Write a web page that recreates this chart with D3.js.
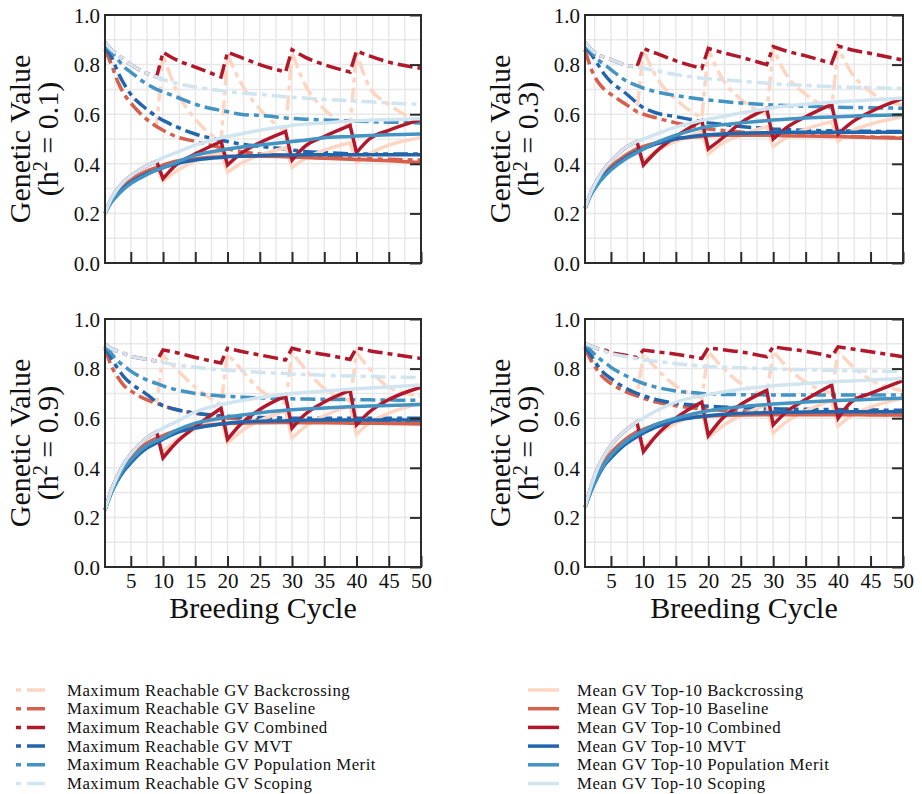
<!DOCTYPE html>
<html>
<head>
<meta charset="utf-8">
<script src="https://cdn.jsdelivr.net/npm/d3@7"></script>
<style>
    body { margin: 0; background: #fff; }
    svg text { font-family: "Liberation Serif", "DejaVu Serif", serif; fill: #111; }
</style>
</head>
<body>
<svg id="chart" width="922" height="794"></svg>
<script>
var cycles = [1, 2, 3, 4, 5, 7, 9, 10, 12, 15, 19, 20, 22, 25, 29, 30, 32, 35, 39, 40, 42, 45, 50];

// h2 = 0.1
var p1MaxBackcrossing = [0.86, 0.80, 0.73, 0.68, 0.645, 0.59, 0.55, 0.84, 0.70, 0.58, 0.49, 0.84, 0.73, 0.62, 0.53, 0.85, 0.72, 0.62, 0.55, 0.85, 0.71, 0.64, 0.565];
var p1MaxBaseline = [0.86, 0.80, 0.73, 0.68, 0.645, 0.59, 0.55, 0.535, 0.51, 0.49, 0.465, 0.46, 0.45, 0.44, 0.435, 0.433, 0.43, 0.427, 0.423, 0.422, 0.42, 0.418, 0.415];
var p1MaxCombined = [0.89, 0.86, 0.84, 0.82, 0.80, 0.77, 0.75, 0.85, 0.82, 0.79, 0.75, 0.85, 0.83, 0.80, 0.77, 0.86, 0.83, 0.80, 0.77, 0.855, 0.835, 0.81, 0.785];
var p1MaxMVT = [0.87, 0.83, 0.77, 0.72, 0.68, 0.63, 0.59, 0.575, 0.55, 0.52, 0.495, 0.49, 0.48, 0.47, 0.46, 0.455, 0.45, 0.445, 0.44, 0.44, 0.44, 0.44, 0.44];
var p1MaxPopMerit = [0.88, 0.85, 0.82, 0.79, 0.77, 0.73, 0.70, 0.69, 0.67, 0.64, 0.615, 0.61, 0.60, 0.595, 0.585, 0.583, 0.58, 0.577, 0.573, 0.572, 0.57, 0.568, 0.565];
var p1MaxScoping = [0.89, 0.86, 0.84, 0.82, 0.80, 0.77, 0.75, 0.74, 0.725, 0.71, 0.695, 0.69, 0.685, 0.68, 0.67, 0.668, 0.665, 0.66, 0.655, 0.653, 0.65, 0.645, 0.64];
var p1MeanBackcrossing = [0.20, 0.255, 0.29, 0.315, 0.335, 0.365, 0.385, 0.33, 0.37, 0.41, 0.45, 0.365, 0.40, 0.435, 0.465, 0.385, 0.42, 0.455, 0.485, 0.405, 0.44, 0.475, 0.505];
var p1MeanBaseline = [0.20, 0.255, 0.29, 0.315, 0.335, 0.365, 0.385, 0.395, 0.41, 0.42, 0.428, 0.43, 0.43, 0.43, 0.428, 0.427, 0.425, 0.422, 0.418, 0.417, 0.415, 0.412, 0.405];
var p1MeanCombined = [0.20, 0.26, 0.30, 0.33, 0.35, 0.385, 0.41, 0.34, 0.395, 0.44, 0.49, 0.395, 0.44, 0.485, 0.53, 0.415, 0.47, 0.51, 0.555, 0.445, 0.50, 0.535, 0.578];
var p1MeanMVT = [0.20, 0.25, 0.28, 0.305, 0.325, 0.355, 0.375, 0.385, 0.40, 0.415, 0.425, 0.428, 0.43, 0.433, 0.435, 0.435, 0.436, 0.436, 0.436, 0.436, 0.436, 0.436, 0.436];
var p1MeanPopMerit = [0.20, 0.245, 0.275, 0.30, 0.32, 0.35, 0.375, 0.385, 0.405, 0.435, 0.455, 0.46, 0.467, 0.476, 0.487, 0.49, 0.495, 0.505, 0.51, 0.512, 0.514, 0.517, 0.52];
var p1MeanScoping = [0.20, 0.26, 0.30, 0.33, 0.35, 0.385, 0.41, 0.425, 0.445, 0.475, 0.505, 0.51, 0.52, 0.535, 0.55, 0.555, 0.56, 0.565, 0.572, 0.574, 0.576, 0.578, 0.582];

// h2 = 0.3
var p2MaxBackcrossing = [0.86, 0.78, 0.73, 0.70, 0.68, 0.645, 0.61, 0.86, 0.75, 0.66, 0.585, 0.86, 0.75, 0.66, 0.60, 0.865, 0.76, 0.68, 0.62, 0.87, 0.77, 0.69, 0.635];
var p2MaxBaseline = [0.86, 0.78, 0.73, 0.70, 0.68, 0.645, 0.61, 0.60, 0.585, 0.565, 0.545, 0.54, 0.535, 0.528, 0.522, 0.52, 0.518, 0.515, 0.512, 0.511, 0.51, 0.508, 0.505];
var p2MaxCombined = [0.89, 0.86, 0.84, 0.83, 0.82, 0.80, 0.79, 0.865, 0.845, 0.815, 0.785, 0.865, 0.85, 0.83, 0.80, 0.872, 0.855, 0.835, 0.805, 0.875, 0.86, 0.845, 0.818];
var p2MaxMVT = [0.87, 0.84, 0.80, 0.76, 0.73, 0.69, 0.645, 0.625, 0.605, 0.59, 0.57, 0.565, 0.56, 0.55, 0.543, 0.54, 0.538, 0.535, 0.533, 0.532, 0.532, 0.531, 0.53];
var p2MaxPopMerit = [0.88, 0.85, 0.82, 0.80, 0.78, 0.74, 0.715, 0.705, 0.69, 0.675, 0.66, 0.657, 0.652, 0.645, 0.638, 0.637, 0.635, 0.632, 0.629, 0.628, 0.627, 0.626, 0.624];
var p2MaxScoping = [0.89, 0.86, 0.84, 0.83, 0.82, 0.80, 0.79, 0.785, 0.775, 0.76, 0.745, 0.743, 0.74, 0.733, 0.725, 0.723, 0.72, 0.716, 0.712, 0.71, 0.709, 0.707, 0.704];
var p2MeanBackcrossing = [0.22, 0.285, 0.33, 0.365, 0.39, 0.43, 0.46, 0.41, 0.45, 0.49, 0.53, 0.44, 0.48, 0.515, 0.55, 0.47, 0.505, 0.54, 0.57, 0.49, 0.53, 0.56, 0.59];
var p2MeanBaseline = [0.22, 0.285, 0.33, 0.365, 0.39, 0.43, 0.46, 0.47, 0.485, 0.50, 0.51, 0.513, 0.515, 0.515, 0.515, 0.515, 0.513, 0.512, 0.51, 0.51, 0.508, 0.506, 0.503];
var p2MeanCombined = [0.22, 0.29, 0.34, 0.38, 0.41, 0.46, 0.49, 0.395, 0.45, 0.51, 0.575, 0.46, 0.50, 0.565, 0.622, 0.50, 0.545, 0.59, 0.64, 0.52, 0.565, 0.61, 0.664];
var p2MeanMVT = [0.22, 0.28, 0.32, 0.355, 0.38, 0.42, 0.45, 0.46, 0.48, 0.50, 0.515, 0.517, 0.52, 0.523, 0.525, 0.526, 0.527, 0.527, 0.527, 0.527, 0.527, 0.527, 0.527];
var p2MeanPopMerit = [0.22, 0.28, 0.32, 0.35, 0.375, 0.415, 0.445, 0.46, 0.485, 0.515, 0.545, 0.55, 0.557, 0.565, 0.574, 0.577, 0.58, 0.585, 0.589, 0.59, 0.592, 0.595, 0.598];
var p2MeanScoping = [0.22, 0.29, 0.34, 0.38, 0.41, 0.46, 0.49, 0.50, 0.52, 0.548, 0.575, 0.58, 0.59, 0.605, 0.622, 0.627, 0.633, 0.64, 0.648, 0.65, 0.653, 0.657, 0.665];

// h2 = 0.9 (left)
var p3MaxBackcrossing = [0.88, 0.81, 0.765, 0.73, 0.71, 0.68, 0.66, 0.855, 0.80, 0.725, 0.655, 0.86, 0.80, 0.715, 0.66, 0.865, 0.80, 0.72, 0.67, 0.865, 0.80, 0.725, 0.69];
var p3MaxBaseline = [0.88, 0.81, 0.765, 0.73, 0.71, 0.68, 0.66, 0.65, 0.635, 0.62, 0.605, 0.60, 0.598, 0.595, 0.592, 0.59, 0.59, 0.588, 0.586, 0.585, 0.585, 0.584, 0.582];
var p3MaxCombined = [0.90, 0.88, 0.87, 0.86, 0.85, 0.84, 0.83, 0.875, 0.865, 0.845, 0.823, 0.882, 0.87, 0.855, 0.835, 0.882, 0.87, 0.857, 0.837, 0.884, 0.872, 0.86, 0.841];
var p3MaxMVT = [0.89, 0.84, 0.80, 0.765, 0.74, 0.705, 0.665, 0.65, 0.635, 0.62, 0.61, 0.608, 0.605, 0.603, 0.601, 0.60, 0.60, 0.60, 0.60, 0.60, 0.60, 0.60, 0.60];
var p3MaxPopMerit = [0.89, 0.86, 0.83, 0.81, 0.79, 0.76, 0.74, 0.73, 0.715, 0.70, 0.69, 0.688, 0.685, 0.682, 0.679, 0.678, 0.677, 0.676, 0.675, 0.674, 0.674, 0.673, 0.672];
var p3MaxScoping = [0.90, 0.88, 0.87, 0.86, 0.85, 0.84, 0.83, 0.825, 0.815, 0.805, 0.795, 0.793, 0.79, 0.785, 0.78, 0.778, 0.776, 0.773, 0.77, 0.769, 0.768, 0.766, 0.764];
var p3MeanBackcrossing = [0.23, 0.31, 0.365, 0.41, 0.44, 0.49, 0.52, 0.465, 0.51, 0.555, 0.60, 0.50, 0.545, 0.59, 0.63, 0.52, 0.565, 0.61, 0.65, 0.535, 0.58, 0.62, 0.66];
var p3MeanBaseline = [0.23, 0.31, 0.365, 0.41, 0.44, 0.49, 0.52, 0.53, 0.55, 0.565, 0.577, 0.578, 0.58, 0.582, 0.583, 0.583, 0.582, 0.582, 0.58, 0.58, 0.58, 0.579, 0.577];
var p3MeanCombined = [0.23, 0.31, 0.37, 0.42, 0.455, 0.51, 0.545, 0.44, 0.50, 0.565, 0.64, 0.515, 0.575, 0.635, 0.69, 0.56, 0.615, 0.665, 0.712, 0.573, 0.625, 0.675, 0.725];
var p3MeanMVT = [0.23, 0.30, 0.35, 0.39, 0.42, 0.47, 0.50, 0.515, 0.54, 0.56, 0.577, 0.58, 0.585, 0.588, 0.59, 0.591, 0.592, 0.593, 0.593, 0.593, 0.593, 0.593, 0.593];
var p3MeanPopMerit = [0.23, 0.30, 0.355, 0.40, 0.43, 0.48, 0.51, 0.52, 0.55, 0.58, 0.60, 0.605, 0.612, 0.622, 0.632, 0.634, 0.637, 0.641, 0.646, 0.647, 0.649, 0.651, 0.655];
var p3MeanScoping = [0.23, 0.31, 0.37, 0.42, 0.455, 0.51, 0.545, 0.56, 0.585, 0.625, 0.655, 0.66, 0.67, 0.683, 0.697, 0.70, 0.704, 0.71, 0.717, 0.719, 0.722, 0.726, 0.734];

// h2 = 0.9 (right)
var p4MaxBackcrossing = [0.88, 0.83, 0.79, 0.76, 0.74, 0.71, 0.69, 0.86, 0.80, 0.73, 0.68, 0.87, 0.81, 0.74, 0.69, 0.87, 0.81, 0.745, 0.70, 0.87, 0.815, 0.755, 0.71];
var p4MaxBaseline = [0.88, 0.83, 0.79, 0.76, 0.74, 0.71, 0.69, 0.68, 0.665, 0.65, 0.638, 0.635, 0.632, 0.628, 0.625, 0.624, 0.623, 0.621, 0.619, 0.618, 0.617, 0.616, 0.614];
var p4MaxCombined = [0.90, 0.89, 0.88, 0.875, 0.865, 0.855, 0.845, 0.875, 0.868, 0.858, 0.841, 0.884, 0.877, 0.867, 0.848, 0.888, 0.88, 0.87, 0.848, 0.888, 0.88, 0.868, 0.848];
var p4MaxMVT = [0.89, 0.85, 0.81, 0.78, 0.76, 0.725, 0.70, 0.69, 0.675, 0.66, 0.65, 0.648, 0.645, 0.642, 0.64, 0.638, 0.637, 0.636, 0.635, 0.635, 0.634, 0.633, 0.632];
var p4MaxPopMerit = [0.90, 0.87, 0.845, 0.825, 0.805, 0.775, 0.75, 0.74, 0.725, 0.71, 0.70, 0.698, 0.696, 0.695, 0.694, 0.694, 0.694, 0.694, 0.694, 0.694, 0.694, 0.694, 0.694];
var p4MaxScoping = [0.90, 0.89, 0.88, 0.87, 0.86, 0.85, 0.84, 0.835, 0.83, 0.82, 0.81, 0.808, 0.806, 0.803, 0.80, 0.799, 0.797, 0.795, 0.793, 0.792, 0.791, 0.79, 0.788];
var p4MeanBackcrossing = [0.24, 0.32, 0.38, 0.425, 0.46, 0.51, 0.545, 0.48, 0.53, 0.58, 0.625, 0.52, 0.565, 0.61, 0.655, 0.54, 0.585, 0.63, 0.67, 0.568, 0.61, 0.645, 0.68];
var p4MeanBaseline = [0.24, 0.32, 0.38, 0.425, 0.46, 0.51, 0.545, 0.555, 0.575, 0.595, 0.607, 0.609, 0.611, 0.613, 0.614, 0.614, 0.614, 0.614, 0.614, 0.614, 0.614, 0.613, 0.613];
var p4MeanCombined = [0.24, 0.33, 0.40, 0.45, 0.49, 0.545, 0.585, 0.465, 0.53, 0.60, 0.665, 0.53, 0.595, 0.655, 0.712, 0.573, 0.625, 0.675, 0.734, 0.60, 0.665, 0.70, 0.752];
var p4MeanMVT = [0.24, 0.31, 0.365, 0.41, 0.44, 0.49, 0.525, 0.54, 0.565, 0.59, 0.607, 0.61, 0.615, 0.619, 0.622, 0.623, 0.624, 0.625, 0.626, 0.626, 0.626, 0.626, 0.626];
var p4MeanPopMerit = [0.24, 0.31, 0.37, 0.415, 0.45, 0.50, 0.535, 0.55, 0.575, 0.60, 0.625, 0.63, 0.637, 0.646, 0.655, 0.657, 0.66, 0.665, 0.67, 0.671, 0.673, 0.676, 0.68];
var p4MeanScoping = [0.24, 0.33, 0.40, 0.45, 0.49, 0.545, 0.585, 0.60, 0.63, 0.665, 0.69, 0.695, 0.705, 0.717, 0.728, 0.731, 0.735, 0.74, 0.746, 0.748, 0.75, 0.754, 0.76];

var strategies = ["Backcrossing", "Baseline", "Combined", "MVT", "Population Merit", "Scoping"];
var strategyColors = ["#fdd6c3", "#d6604d", "#b2182b", "#2166ac", "#4393c3", "#d1e5f0"];
var heritabilities = ["0.1", "0.3", "0.9", "0.9"];
var xTickValues = [5, 10, 15, 20, 25, 30, 35, 40, 45, 50];
var yTickValues = [0, 0.2, 0.4, 0.6, 0.8, 1.0];

// cycles where backcrossing events restart a segment
var resetCycles = [10, 20, 30, 40];

var maxSeries = [
    [p1MaxBackcrossing, p1MaxBaseline, p1MaxCombined, p1MaxMVT, p1MaxPopMerit, p1MaxScoping],
    [p2MaxBackcrossing, p2MaxBaseline, p2MaxCombined, p2MaxMVT, p2MaxPopMerit, p2MaxScoping],
    [p3MaxBackcrossing, p3MaxBaseline, p3MaxCombined, p3MaxMVT, p3MaxPopMerit, p3MaxScoping],
    [p4MaxBackcrossing, p4MaxBaseline, p4MaxCombined, p4MaxMVT, p4MaxPopMerit, p4MaxScoping]
];
var meanSeries = [
    [p1MeanBackcrossing, p1MeanBaseline, p1MeanCombined, p1MeanMVT, p1MeanPopMerit, p1MeanScoping],
    [p2MeanBackcrossing, p2MeanBaseline, p2MeanCombined, p2MeanMVT, p2MeanPopMerit, p2MeanScoping],
    [p3MeanBackcrossing, p3MeanBaseline, p3MeanCombined, p3MeanMVT, p3MeanPopMerit, p3MeanScoping],
    [p4MeanBackcrossing, p4MeanBaseline, p4MeanCombined, p4MeanMVT, p4MeanPopMerit, p4MeanScoping]
];

var DASH = "15,5,5,5";
var svg = d3.select("#chart");

var Panel = function (index, box, showXLabels) {
    this.index = index;
    this.box = box;
    this.showXLabels = showXLabels;
    this.x = d3.scaleLinear().domain([1, 50]).range([box.left, box.right]);
    this.y = d3.scaleLinear().domain([0, 1]).range([box.bottom, box.top]);
    this.g = svg.append("g");
};

Panel.prototype.pathFor = function (values) {
    var that = this;
    var line = d3.line()
        .curve(d3.curveMonotoneX)
        .x(function (d) { return that.x(d[0]); })
        .y(function (d) { return that.y(d[1]); });
    var pieces = [], current = [];
    cycles.forEach(function (c, i) {
        if (resetCycles.indexOf(c) >= 0 && current.length) {
            pieces.push(current);
            current = [];
        }
        current.push([c, values[i]]);
    });
    pieces.push(current);
    // join the smooth pieces with straight jumps
    return pieces.map(function (p, i) {
        var s = line(p);
        return i ? s.replace(/^M/, "L") : s;
    }).join("");
};

Panel.prototype.drawGrid = function () {
    var b = this.box, x = this.x, y = this.y;
    var grid = this.g.append("g").attr("stroke", "#e8e8e8").attr("stroke-width", 1.5);
    grid.selectAll("line.vx")
        .data(d3.range(2.5, 50, 2.5))
        .enter().append("line")
        .attr("x1", function (d) { return x(d); })
        .attr("x2", function (d) { return x(d); })
        .attr("y1", b.top).attr("y2", b.bottom);
    grid.selectAll("line.hy")
        .data(d3.range(1, 10).map(function (d) { return d / 10; }))
        .enter().append("line")
        .attr("y1", function (d) { return y(d); })
        .attr("y2", function (d) { return y(d); })
        .attr("x1", b.left).attr("x2", b.right);
};

Panel.prototype.drawLines = function () {
    var that = this;
    maxSeries[this.index].forEach(function (vals, i) {
        that.g.append("path")
            .attr("d", that.pathFor(vals))
            .attr("fill", "none")
            .attr("stroke", strategyColors[i])
            .attr("stroke-width", 3.5)
            .attr("stroke-dasharray", DASH);
    });
    meanSeries[this.index].forEach(function (vals, i) {
        that.g.append("path")
            .attr("d", that.pathFor(vals))
            .attr("fill", "none")
            .attr("stroke", strategyColors[i])
            .attr("stroke-width", 3.5);
    });
};

Panel.prototype.drawAxes = function () {
    var b = this.box;
    var bottom = d3.axisBottom(this.x)
        .tickValues(xTickValues)
        .tickSizeInner(-11).tickSizeOuter(0)
        .tickPadding(6);
    if (!this.showXLabels) bottom.tickFormat("");
    var gx = this.g.append("g").attr("transform", "translate(0," + b.bottom + ")").call(bottom);

    var left = d3.axisLeft(this.y)
        .tickValues(yTickValues)
        .tickFormat(d3.format(".1f"))
        .tickSize(0).tickPadding(5);
    var gyl = this.g.append("g").attr("transform", "translate(" + b.left + ",0)").call(left);

    var right = d3.axisRight(this.y)
        .tickValues(yTickValues)
        .tickFormat("")
        .tickSizeInner(-11).tickSizeOuter(0);
    var gyr = this.g.append("g").attr("transform", "translate(" + b.right + ",0)").call(right);

    [gx, gyl, gyr].forEach(function (g) {
        g.attr("font-family", null).attr("font-size", 21);
        g.select(".domain").remove();
        g.selectAll(".tick line").attr("stroke", "#2b2b2b").attr("stroke-width", 2);
        g.selectAll(".tick text").attr("fill", "#111");
    });
    gyl.selectAll(".tick text").attr("dy", "0.35em");

    this.g.append("rect")
        .attr("x", b.left).attr("y", b.top)
        .attr("width", b.right - b.left).attr("height", b.bottom - b.top)
        .attr("fill", "none")
        .attr("stroke", "#2b2b2b")
        .attr("stroke-width", 2);
};

Panel.prototype.drawLabels = function () {
    var b = this.box;
    var cy = (b.top + b.bottom) / 2;
    this.g.append("text")
        .attr("transform", "translate(" + (b.left - 75) + "," + cy + ") rotate(-90)")
        .attr("text-anchor", "middle")
        .attr("font-size", 30)
        .text("Genetic Value");
    var t = this.g.append("text")
        .attr("transform", "translate(" + (b.left - 47) + "," + cy + ") rotate(-90)")
        .attr("text-anchor", "middle")
        .attr("font-size", 30);
    t.append("tspan").text("(h");
    t.append("tspan").attr("dy", -11).attr("font-size", 20).text("2");
    t.append("tspan").attr("dy", 11).text(" = " + heritabilities[this.index] + ")");

    if (this.showXLabels) {
        this.g.append("text")
            .attr("x", (b.left + b.right) / 2)
            .attr("y", b.bottom + 51)
            .attr("text-anchor", "middle")
            .attr("font-size", 30)
            .text("Breeding Cycle");
    }
};

Panel.prototype.draw = function () {
    this.drawGrid();
    this.drawLines();
    this.drawAxes();
    this.drawLabels();
};

var boxes = [
    {left: 105, right: 421, top: 15, bottom: 263},
    {left: 585, right: 903, top: 15, bottom: 263},
    {left: 105, right: 421, top: 319, bottom: 567},
    {left: 585, right: 903, top: 319, bottom: 567}
];
boxes.forEach(function (box, i) {
    new Panel(i, box, i >= 2).draw();
});

// legend: maximum reachable (dash-dot) on the left, top-10 means (solid) on the right
var legend = svg.append("g");
var rowY = d3.scaleLinear().domain([0, 1]).range([690, 708.7]);
strategies.forEach(function (name, i) {
    var yy = rowY(i);
    legend.append("line")
        .attr("x1", 16).attr("x2", 45).attr("y1", yy).attr("y2", yy)
        .attr("stroke", strategyColors[i]).attr("stroke-width", 3.5)
        .attr("stroke-dasharray", "5,6,18,40");
    legend.append("text")
        .attr("x", 67).attr("y", yy + 5.5)
        .attr("font-size", 16.8)
        .attr("letter-spacing", 0.5)
        .text("Maximum Reachable GV " + name);
    legend.append("line")
        .attr("x1", 528).attr("x2", 559).attr("y1", yy).attr("y2", yy)
        .attr("stroke", strategyColors[i]).attr("stroke-width", 3.5);
    legend.append("text")
        .attr("x", 577).attr("y", yy + 5.5)
        .attr("font-size", 16.8)
        .attr("letter-spacing", 0.5)
        .text("Mean GV Top-10 " + name);
});
</script>
</body>
</html>
